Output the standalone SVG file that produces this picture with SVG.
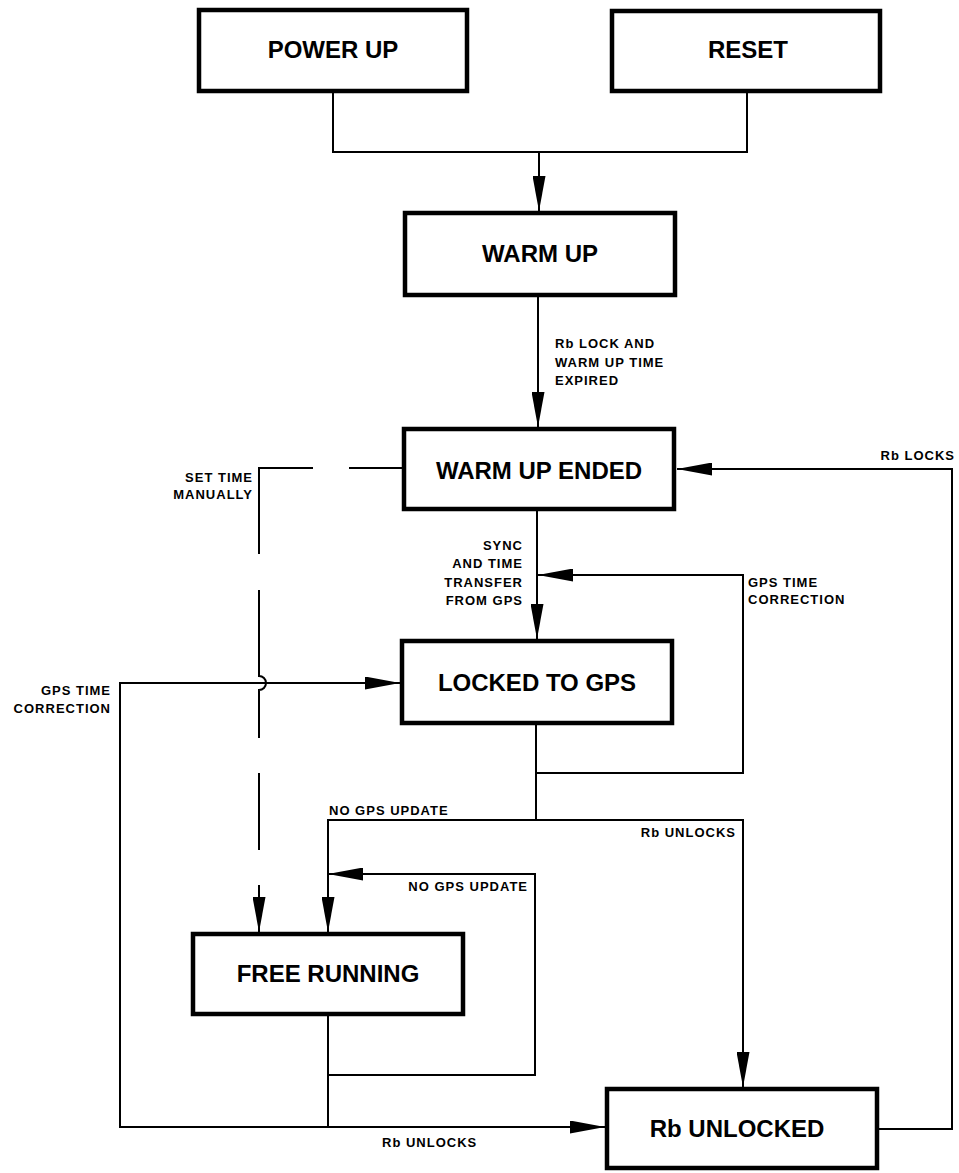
<svg xmlns="http://www.w3.org/2000/svg" width="959" height="1173" viewBox="0 0 959 1173">
<style>
.box{fill:#fff;stroke:#000;stroke-width:4.5}
.lbl{font-family:"Liberation Sans",Arial,sans-serif;font-weight:bold;font-size:24px;fill:#000;text-anchor:middle}
.sm{font-family:"Liberation Sans",Arial,sans-serif;font-weight:bold;font-size:13px;letter-spacing:1px;fill:#000}
.r{text-anchor:end}
.ln{fill:none;stroke:#000;stroke-width:2}
</style>
<defs>
<marker id="ah" viewBox="0 0 35 13" refX="35" refY="6.5" markerWidth="35" markerHeight="13" markerUnits="userSpaceOnUse" orient="auto">
<path d="M0,0 L35,6.5 L0,13 Z" fill="#000"/>
</marker>
</defs>
<rect width="959" height="1173" fill="#fff"/>
<g id="connectors">
<path class="ln" d="M333 93 V152 H747 V93"/>
<path class="ln" d="M539 152 V211" marker-end="url(#ah)"/>
<path class="ln" d="M538 297 V427" marker-end="url(#ah)"/>
<path class="ln" d="M402 468 H349 M313 468 H259 V554 M259 590 V676 A7 7 0 0 1 259 690 V738 M259 773 V850"/>
<path class="ln" d="M259 885 V932" marker-end="url(#ah)"/>
<path class="ln" d="M537 511 V639" marker-end="url(#ah)"/>
<path class="ln" d="M536 773 H743 V575 H538" marker-end="url(#ah)"/>
<path class="ln" d="M536 725 V820"/>
<path class="ln" d="M536 820 H328 V932" marker-end="url(#ah)"/>
<path class="ln" d="M536 820 H743 V1087" marker-end="url(#ah)"/>
<path class="ln" d="M328 1016 V1127"/>
<path class="ln" d="M328 1075 H535 V874 H328" marker-end="url(#ah)"/>
<path class="ln" d="M328 1127 H605" marker-end="url(#ah)"/>
<path class="ln" d="M328 1127 H120 V683 H400" marker-end="url(#ah)"/>
<path class="ln" d="M879 1129 H952 V469 H677" marker-end="url(#ah)"/>
</g>
<g id="power-up"><rect class="box" x="199" y="10" width="268" height="81"/><text class="lbl" x="333" y="58">POWER UP</text></g>
<g id="reset"><rect class="box" x="612" y="11" width="268" height="80"/><text class="lbl" x="748" y="58">RESET</text></g>
<g id="warm-up"><rect class="box" x="405" y="213" width="270" height="82"/><text class="lbl" x="540" y="262">WARM UP</text></g>
<g id="warm-up-ended"><rect class="box" x="404" y="429" width="270" height="80"/><text class="lbl" x="539" y="479">WARM UP ENDED</text></g>
<g id="locked-to-gps"><rect class="box" x="402" y="641" width="270" height="82"/><text class="lbl" x="537" y="691">LOCKED TO GPS</text></g>
<g id="free-running"><rect class="box" x="193" y="934" width="270" height="80"/><text class="lbl" x="328" y="982">FREE RUNNING</text></g>
<g id="rb-unlocked"><rect class="box" x="607" y="1089" width="270" height="79"/><text class="lbl" x="737" y="1137">Rb UNLOCKED</text></g>
<g id="labels">
<text class="sm" x="555" y="348">Rb LOCK AND</text>
<text class="sm" x="555" y="367">WARM UP TIME</text>
<text class="sm" x="555" y="385">EXPIRED</text>
<text class="sm r" x="253" y="482">SET TIME</text>
<text class="sm r" x="253" y="499">MANUALLY</text>
<text class="sm r" x="955" y="460">Rb LOCKS</text>
<text class="sm r" x="523" y="550">SYNC</text>
<text class="sm r" x="523" y="568">AND TIME</text>
<text class="sm r" x="523" y="587">TRANSFER</text>
<text class="sm r" x="523" y="605">FROM GPS</text>
<text class="sm" x="748" y="587">GPS TIME</text>
<text class="sm" x="748" y="604">CORRECTION</text>
<text class="sm r" x="111" y="695">GPS TIME</text>
<text class="sm r" x="111" y="713">CORRECTION</text>
<text class="sm" x="329" y="815">NO GPS UPDATE</text>
<text class="sm r" x="736" y="837">Rb UNLOCKS</text>
<text class="sm r" x="528" y="891">NO GPS UPDATE</text>
<text class="sm" x="382" y="1147">Rb UNLOCKS</text>
</g>
</svg>
